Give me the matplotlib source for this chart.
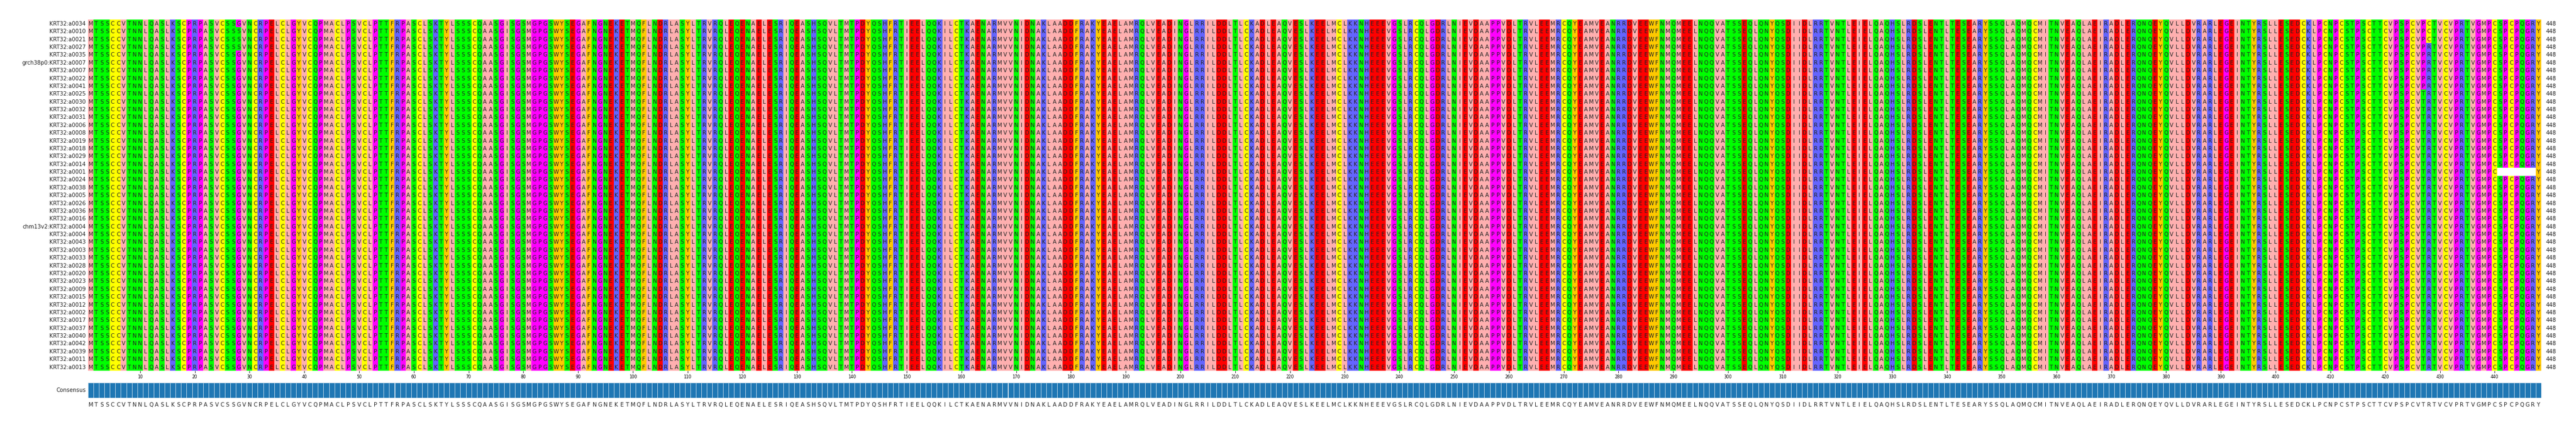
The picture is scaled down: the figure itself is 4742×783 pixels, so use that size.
import numpy as np
import matplotlib
matplotlib.use("Agg")
import matplotlib.pyplot as plt
from matplotlib.colors import to_rgb

consensus = ("MTSSCCVTNNLQASLKSCPRPASVCSSGVNCRPELCLGYVCQPMACLPSVCLPTTF"
             "RPASCLSKTYLSSSCQAASGISGSMGPGSWYSEGAFNGNEKETMQFLNDRLASYLT"
             "RVRQLEQENAELESRIQEASHSQVLTMTPDYQSHFRTIEELQQKILCTKAENARMV"
             "VNIDNAKLAADDFRAKYEAELAMRQLVEADINGLRRILDDLTLCKADLEAQVESLK"
             "EELMCLKKNHEEEVGSLRCQLGDRLNIEVDAAPPVDLTRVLEEMRCQYEAMVEANR"
             "RDVEEWFNMQMEELNQQVATSSEQLQNYQSDIIDLRRTVNTLEIELQAQHSLRDSL"
             "ENTLTESEARYSSQLAQMQCMITNVEAQLAEIRADLERQNQEYQVLLDVRARLEGE"
             "INTYRSLLESEDCKLPCNPCSTPSCTTCVPSPCVTRTVCVPRTVGMPCSPCPQGRY")

names = ["KRT32:a0034", "KRT32:a0010", "KRT32:a0021", "KRT32:a0027", "KRT32:a0035",
         "grch38p0:KRT32:a0007", "KRT32:a0007", "KRT32:a0022", "KRT32:a0041",
         "KRT32:a0025", "KRT32:a0030", "KRT32:a0032", "KRT32:a0031", "KRT32:a0006",
         "KRT32:a0008", "KRT32:a0019", "KRT32:a0018", "KRT32:a0029", "KRT32:a0014",
         "KRT32:a0001", "KRT32:a0024", "KRT32:a0038", "KRT32:a0005", "KRT32:a0026",
         "KRT32:a0036", "KRT32:a0016", "chm13v2:KRT32:a0004", "KRT32:a0004",
         "KRT32:a0043", "KRT32:a0003", "KRT32:a0033", "KRT32:a0028", "KRT32:a0020",
         "KRT32:a0023", "KRT32:a0009", "KRT32:a0015", "KRT32:a0012", "KRT32:a0002",
         "KRT32:a0017", "KRT32:a0037", "KRT32:a0040", "KRT32:a0042", "KRT32:a0039",
         "KRT32:a0011", "KRT32:a0013"]

# variants: (row, column, residue)
variants = ([(r, 426, "P") for r in range(9)] + [(r, 427, "C") for r in range(3)]
            + [(r, 27, "S") for r in (1, 2, 3)]
            + [(19, c, "-") for c in range(440, 447)])

zappo = {}
for a in "ILVAM": zappo[a] = "#ffafaf"
for a in "FWY": zappo[a] = "#ffc800"
for a in "KRH": zappo[a] = "#6464ff"
for a in "DE": zappo[a] = "#ff0000"
for a in "STNQ": zappo[a] = "#00ff00"
for a in "PG": zappo[a] = "#ff00ff"
zappo["C"] = "#ffff00"
zappo["-"] = "#ffffff"

L = len(consensus)
seqs = [list(consensus) for _ in names]
for r, c, a in variants:
    seqs[r][c] = a
nrow = len(names)

W, H = 4742, 783
fig = plt.figure(figsize=(W / 100, H / 100), dpi=100)
x0, x1 = 162 / W, 4678 / W
ax = fig.add_axes([x0, 1 - 683 / H, x1 - x0, (683 - 36) / H])
img = np.array([[to_rgb(zappo[a]) for a in s] for s in seqs])
ax.imshow(img, aspect="auto", interpolation="nearest",
          extent=(0, L, nrow, 0))
for r, s in enumerate(seqs):
    for c, a in enumerate(s):
        if a != "-":
            ax.text(c + 0.5, r + 0.55, a, ha="center", va="center", fontsize=7.3, color="#222222")
    ax.text(-0.4, r + 0.55, names[r], ha="right", va="center", fontsize=7.3, color="#222222")
    ax.text(L + 0.8, r + 0.55, str(L), ha="left", va="center", fontsize=7.3, color="#222222")
ax.set_xlim(0, L)
ax.set_ylim(nrow, 0)
ax.set_yticks([])
ticks = np.arange(10, L + 1, 10)
ax.set_xticks(ticks - 0.5)
ax.set_xticklabels([str(t) for t in ticks], fontsize=5.5)
ax.tick_params(axis="x", length=3, width=0.6, pad=2)
for sp in ax.spines.values():
    sp.set_visible(False)

cax = fig.add_axes([x0, 1 - 733 / H, x1 - x0, (733 - 705) / H])
identity = [100] * L
cax.bar(np.arange(L) + 0.5, identity, width=1.0, color="#1f77b4", edgecolor="#c8dceb", linewidth=0.6)
cax.set_xlim(0, L)
cax.set_ylim(0, 100)
cax.set_xticks([])
cax.set_yticks([])
for sp in cax.spines.values():
    sp.set_visible(False)
cax.text(-0.4, 50, "Consensus", ha="right", va="center", fontsize=7.3, color="#222222")
for c, a in enumerate(consensus):
    cax.text(c + 0.5, -45, a, ha="center", va="center", fontsize=7.3, color="#222222")

fig.savefig("out.png", dpi=100)
